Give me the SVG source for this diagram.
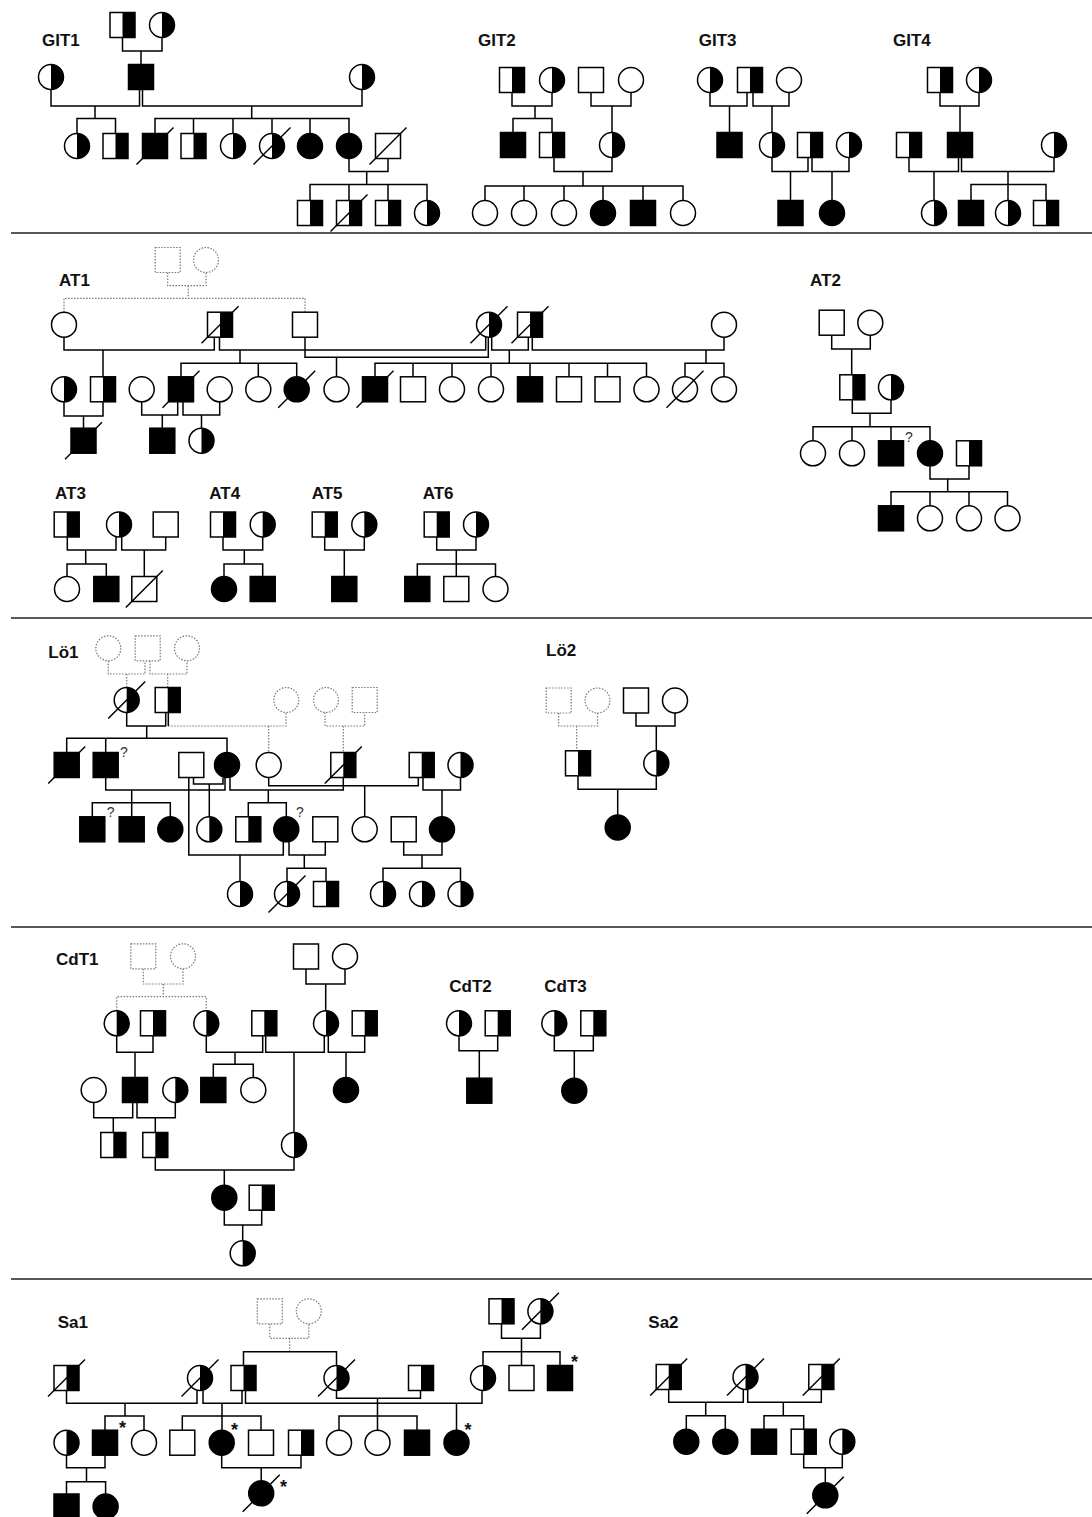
<svg xmlns="http://www.w3.org/2000/svg" width="1092" height="1517" viewBox="0 0 1092 1517">
<style>
.ln{fill:none;stroke:#000;stroke-width:1.5}
.dl{fill:none;stroke:#777;stroke-width:1.2;stroke-dasharray:1.5 1.5}
.sep{fill:none;stroke:#222;stroke-width:1.3}
.lbl{font-family:"Liberation Sans",Arial,sans-serif;font-weight:bold;font-size:17px;fill:#111}
.q{font-family:"Liberation Sans",Arial,sans-serif;font-size:14px;fill:#333}
.ast{font-family:"Liberation Sans",Arial,sans-serif;font-weight:bold;font-size:18px;fill:#111}
</style>
<defs>
<g id="sq"><rect x="-12.5" y="-12.5" width="25" height="25" fill="#fff" stroke="#000" stroke-width="1.5"/></g>
<g id="sqF"><rect x="-12.5" y="-12.5" width="25" height="25" fill="#000" stroke="#000" stroke-width="1.5"/></g>
<g id="sqH"><rect x="-12.5" y="-12.5" width="25" height="25" fill="#fff"/><rect x="0" y="-12.5" width="12.5" height="25" fill="#000"/><rect x="-12.5" y="-12.5" width="25" height="25" fill="none" stroke="#000" stroke-width="1.5"/></g>
<g id="ci"><circle r="12.5" fill="#fff" stroke="#000" stroke-width="1.5"/></g>
<g id="ciF"><circle r="12.5" fill="#000" stroke="#000" stroke-width="1.5"/></g>
<g id="ciH"><circle r="12.5" fill="#fff"/><path d="M0,-12.5A12.5,12.5 0 0 1 0,12.5Z" fill="#000"/><circle r="12.5" fill="none" stroke="#000" stroke-width="1.5"/></g>
<g id="dsq"><rect x="-12.5" y="-12.5" width="25" height="25" fill="#fff" stroke="#777" stroke-width="1.2" stroke-dasharray="1.5 1.5"/></g>
<g id="dci"><circle r="12.5" fill="#fff" stroke="#777" stroke-width="1.2" stroke-dasharray="1.5 1.5"/></g>
<line id="dec" x1="-18.5" y1="18.5" x2="18.5" y2="-18.5" stroke="#000" stroke-width="1.5"/>
</defs>
<rect width="1092" height="1517" fill="#fff"/>

<g id="separators"><path class="sep" d="M11,233H1092 M11,618H1092 M11,927H1092 M11,1279H1092"/></g>

<g id="connectors">
<path class="ln" d="M122.5,37.5V51H162V37.5 M141,51V64.5 M51,89.5V106H139.5V89.5 M142.5,89.5V106H362V89.5 M95,106V118.5 M77,133.5V118.5H115.5V133.5 M251.7,106V118.5 M155,133.5V118.5H349V133.5 M193.5,118.5V133.5 M233,118.5V133.5 M272,118.5V133.5 M310,118.5V133.5 M349,158.5V171.5H388V158.5 M366.7,171.5V184.5 M310,200.5V184.5H427V200.5 M349,184.5V200.5 M388,184.5V200.5"/>
<path class="ln" d="M512,92.5V106H552V92.5 M535,106V118.5 M513,132.5V118.5H552V132.5 M591,92.5V106H631V92.5 M612,106V132.5 M554,157.5V171.5H612V157.5 M583,171.5V186 M485,200.5V186H683V200.5 M524,186V200.5 M564,186V200.5 M603,186V200.5 M643,186V200.5"/>
<path class="ln" d="M710,92.5V106H747V92.5 M729.5,106V132.5 M753,92.5V106H789V92.5 M772,106V132.5 M772,157.5V171.5H808V157.5 M790.5,171.5V200.5 M812,157.5V171.5H849V157.5 M832,171.5V200.5"/>
<path class="ln" d="M940,92.5V106H979V92.5 M960,106V132.5 M909,157.5V171.5H958.5V157.5 M934,171.5V200.5 M961.5,157.5V171.5H1054V157.5 M1008,171.5V184.5 M971,200.5V184.5H1046V200.5 M1008,184.5V200.5"/>
<path class="dl" d="M167.7,272.5V285.7H206V272.5 M188.3,285.7V298.3 M64,312.2V298.3H305V312.2"/>
<path class="ln" d="M64,337.2V350H214.3V337.2 M103,350V376.8 M219.5,337.2V350H485.7V337 M240,350V363.3 M181,376.8V363.3H296.7V376.8 M258.3,363.3V376.8 M305,337.2V357.3H488.3V337 M336.5,357.3V376.8 M491.7,337V350H528.3V337.2 M509.3,350V363.3 M375,376.8V363.3H646.5V376.8 M413,363.3V376.8 M452,363.3V376.8 M491,363.3V376.8 M530,363.3V376.8 M569,363.3V376.8 M607.5,363.3V376.8 M532.3,337.2V350H724V337.2 M706,350V363.3 M685,376.8V363.3H724V376.8 M64,401.8V416H103V401.8 M83.5,416V428.2 M141.7,401.8V415H177.7V401.8 M162.3,415V428.2 M183,401.8V415H219.7V401.8 M201.5,415V428.2"/>
<path class="ln" d="M831.7,335.2V349H870.3V335.2 M851.7,349V374.8 M852.3,399.8V413.3H891V399.8 M870,413.3V426.7 M813,440.8V426.7H930V440.8 M852,426.7V440.8 M891,426.7V440.8 M930,465.8V479H969V465.8 M947.7,479V491.7 M891,505.8V491.7H1007.5V505.8 M930,491.7V505.8 M969,491.7V505.8"/>
<path class="ln" d="M67.3,537V550H116V537 M85.7,550V564 M67,576.5V564H106.3V576.5 M121.7,537V550H165.7V537 M144.3,550V576.5 M223,537V550H262.7V537 M244.3,550V564 M224,576.5V564H262.7V576.5 M324.7,537V550H364.3V537 M344.3,550V576.5 M436.7,537V550H476V537 M456.3,550V576.5 M417.3,576.5V564H495.5V576.5"/>
<path class="dl" d="M108.3,660.8V674H145V660.8 M126.7,674V687.5 M150,660.8V674H187V660.8 M167.7,674V687.5 M168.3,726H286V712.5 M268.7,726V752.5 M325,712.5V726H364.7V712.5 M343.3,726V752.5"/>
<path class="ln" d="M168.3,712.5V726 M126.7,712.5V726H165.7V712.5 M146.7,726V738.3 M66.7,752.5V738.3H227V752.5 M105.7,738.3V752.5 M105.7,777.5V790H225V777.5 M230,777.5V790H343.3V777.5 M131.7,790V802.7 M92.3,816.8V802.7H170.3V816.8 M131.7,802.7V816.8 M268.3,790V802.7 M248.3,816.8V802.7H286.3V816.8 M193.5,777.5V784H223V777.5 M209.3,784V816.8 M268.7,777.5V785.7H418.3V777.5 M364.7,785.7V816.8 M423,777.5V790H460.5V777.5 M442,790V816.8 M188.8,777.5V855H283.3V841.5 M240,855V881.5 M289,841.5V855H325.3V841.8 M304.3,855V868.3 M287,881.5V868.3H326V881.5 M403.7,841.8V855H442V841.8 M422,855V868.3 M383,881.5V868.3H460.5V881.5"/>
<path class="dl" d="M558.7,713V726H597.5V713 M576.7,726V750.8"/>
<path class="ln" d="M636,713V726H675V713 M656.3,726V750.8 M578,775.8V789.3H656.3V775.8 M617.7,789.3V815"/>
<path class="dl" d="M143.3,968.8V984H183V968.8 M163.3,984V996.7 M116.7,1010.8V996.7H206.3V1010.8"/>
<path class="ln" d="M306,969V984H345V969 M325.7,984V1010.8 M116.7,1035.8V1052.3H153V1035.8 M135,1052.3V1077.5 M206.3,1035.8V1052.3H262.7V1035.8 M235,1052.3V1064.3 M213.3,1077.5V1064.3H253.3V1077.5 M265.7,1035.8V1052.3H324.3V1035.8 M294,1052.3V1132.5 M328.3,1035.8V1052.3H364.7V1035.8 M346,1052.3V1077.5 M93.7,1102.5V1117.7H132.7V1102.5 M113.3,1117.7V1132.5 M137,1102.5V1117.7H175.3V1102.5 M155.3,1117.7V1132.5 M155.3,1157.5V1170H294V1157.5 M224.3,1170V1185.2 M224.3,1210.2V1225H261.7V1210.2 M242.7,1225V1240.8"/>
<path class="ln" d="M459,1035.8V1050.7H497.7V1035.8 M479.3,1050.7V1078.2 M554.3,1035.8V1050.7H593.3V1035.8 M574.3,1050.7V1078.2"/>
<path class="dl" d="M269.8,1323.8V1338.3H308.8V1323.8 M289.6,1338.3V1351.7"/>
<path class="ln" d="M243.5,1365.5V1351.7H336.5V1365.5 M501.5,1323.8V1338.3H540.4V1323.8 M521.5,1338.3V1365.5 M483,1365.5V1351.7H560V1365.5 M66.5,1390.5V1403.3H197V1390.5 M125,1403.3V1416 M105,1430.2V1416H144V1430.2 M203,1390.5V1403.3H242V1390.5 M222,1403.3V1430.2 M182.3,1430.2V1416H261V1430.2 M245.5,1390.5V1403.3H482V1390.5 M456.5,1403.3V1430.2 M336.5,1390.5V1398.3H420.5V1390.5 M377.5,1398.3V1430.2 M339,1430.2V1416H417V1430.2 M66.5,1455.2V1467.7H105V1455.2 M86.5,1467.7V1481.7 M66.5,1494V1481.7H105.6V1494 M221.7,1455.2V1467.7H301V1455.2 M261.2,1467.7V1480.8"/>
<path class="ln" d="M668.7,1389.5V1402.3H743.3V1389.5 M705.7,1402.3V1415.7 M686.3,1429.2V1415.7H725.3V1429.2 M747.7,1389.5V1402.3H821.3V1389.5 M783.3,1402.3V1415.7 M764,1429.2V1415.7H803.7V1429.2 M803.7,1454.2V1467.7H842.3V1454.2 M825.3,1467.7V1482.8"/>
</g>

<g id="labels">
<text class="lbl" x="42" y="45.7">GIT1</text>
<text class="lbl" x="478" y="45.7">GIT2</text>
<text class="lbl" x="698.7" y="45.7">GIT3</text>
<text class="lbl" x="893" y="45.7">GIT4</text>
<text class="lbl" x="59" y="285.7">AT1</text>
<text class="lbl" x="810" y="285.7">AT2</text>
<text class="lbl" x="55" y="499">AT3</text>
<text class="lbl" x="209.3" y="499">AT4</text>
<text class="lbl" x="311.7" y="499">AT5</text>
<text class="lbl" x="422.7" y="499">AT6</text>
<text class="lbl" x="48.3" y="658.3">Lö1</text>
<text class="lbl" x="546" y="656">Lö2</text>
<text class="lbl" x="56" y="965">CdT1</text>
<text class="lbl" x="449.3" y="992.3">CdT2</text>
<text class="lbl" x="544.3" y="992.3">CdT3</text>
<text class="lbl" x="57.7" y="1327.7">Sa1</text>
<text class="lbl" x="648.3" y="1327.7">Sa2</text>
<text class="q" x="905" y="442">?</text>
<text class="q" x="120" y="757">?</text>
<text class="q" x="106.7" y="817">?</text>
<text class="q" x="296" y="817">?</text>
<text class="ast" x="571" y="1368">*</text>
<text class="ast" x="119" y="1434">*</text>
<text class="ast" x="231" y="1436">*</text>
<text class="ast" x="464.6" y="1436">*</text>
<text class="ast" x="280" y="1493">*</text>
</g>

<g id="GIT1">
<g id="git1-01"><use href="#sqH" x="122.5" y="25"/></g>
<g id="git1-02"><use href="#ciH" x="162" y="25"/></g>
<g id="git1-03"><use href="#ciH" x="51" y="77"/></g>
<g id="git1-04"><use href="#sqF" x="141" y="77"/></g>
<g id="git1-05"><use href="#ciH" x="362" y="77"/></g>
<g id="git1-06"><use href="#ciH" x="77" y="146"/></g>
<g id="git1-07"><use href="#sqH" x="115.5" y="146"/></g>
<g id="git1-08"><use href="#sqF" x="155" y="146"/><use href="#dec" x="155" y="146"/></g>
<g id="git1-09"><use href="#sqH" x="193.5" y="146"/></g>
<g id="git1-10"><use href="#ciH" x="233" y="146"/></g>
<g id="git1-11"><use href="#ciH" x="272" y="146"/><use href="#dec" x="272" y="146"/></g>
<g id="git1-12"><use href="#ciF" x="310" y="146"/></g>
<g id="git1-13"><use href="#ciF" x="349" y="146"/></g>
<g id="git1-14"><use href="#sq" x="388" y="146"/><use href="#dec" x="388" y="146"/></g>
<g id="git1-15"><use href="#sqH" x="310" y="213"/></g>
<g id="git1-16"><use href="#sqH" x="349" y="213"/><use href="#dec" x="349" y="213"/></g>
<g id="git1-17"><use href="#sqH" x="388" y="213"/></g>
<g id="git1-18"><use href="#ciH" x="427" y="213"/></g>
</g>

<g id="GIT2">
<g id="git2-01"><use href="#sqH" x="512" y="80"/></g>
<g id="git2-02"><use href="#ciH" x="552" y="80"/></g>
<g id="git2-03"><use href="#sq" x="591" y="80"/></g>
<g id="git2-04"><use href="#ci" x="631" y="80"/></g>
<g id="git2-05"><use href="#sqF" x="513" y="145"/></g>
<g id="git2-06"><use href="#sqH" x="552" y="145"/></g>
<g id="git2-07"><use href="#ciH" x="612" y="145"/></g>
<g id="git2-08"><use href="#ci" x="485" y="213"/></g>
<g id="git2-09"><use href="#ci" x="524" y="213"/></g>
<g id="git2-10"><use href="#ci" x="564" y="213"/></g>
<g id="git2-11"><use href="#ciF" x="603" y="213"/></g>
<g id="git2-12"><use href="#sqF" x="643" y="213"/></g>
<g id="git2-13"><use href="#ci" x="683" y="213"/></g>
</g>

<g id="GIT3">
<g id="git3-01"><use href="#ciH" x="710" y="80"/></g>
<g id="git3-02"><use href="#sqH" x="750" y="80"/></g>
<g id="git3-03"><use href="#ci" x="789" y="80"/></g>
<g id="git3-04"><use href="#sqF" x="729.5" y="145"/></g>
<g id="git3-05"><use href="#ciH" x="772" y="145"/></g>
<g id="git3-06"><use href="#sqH" x="810" y="145"/></g>
<g id="git3-07"><use href="#ciH" x="849" y="145"/></g>
<g id="git3-08"><use href="#sqF" x="790.5" y="213"/></g>
<g id="git3-09"><use href="#ciF" x="832" y="213"/></g>
</g>

<g id="GIT4">
<g id="git4-01"><use href="#sqH" x="940" y="80"/></g>
<g id="git4-02"><use href="#ciH" x="979" y="80"/></g>
<g id="git4-03"><use href="#sqH" x="909" y="145"/></g>
<g id="git4-04"><use href="#sqF" x="960" y="145"/></g>
<g id="git4-05"><use href="#ciH" x="1054" y="145"/></g>
<g id="git4-06"><use href="#ciH" x="934" y="213"/></g>
<g id="git4-07"><use href="#sqF" x="971" y="213"/></g>
<g id="git4-08"><use href="#ciH" x="1008" y="213"/></g>
<g id="git4-09"><use href="#sqH" x="1046" y="213"/></g>
</g>

<g id="AT1">
<g id="at1-01"><use href="#dsq" x="167.7" y="260"/></g>
<g id="at1-02"><use href="#dci" x="206" y="260"/></g>
<g id="at1-03"><use href="#ci" x="64" y="324.7"/></g>
<g id="at1-04"><use href="#sqH" x="220" y="324.7"/><use href="#dec" x="220" y="324.7"/></g>
<g id="at1-05"><use href="#sq" x="305" y="324.7"/></g>
<g id="at1-06"><use href="#ciH" x="489" y="324.7"/><use href="#dec" x="489" y="324.7"/></g>
<g id="at1-07"><use href="#sqH" x="530" y="324.7"/><use href="#dec" x="530" y="324.7"/></g>
<g id="at1-08"><use href="#ci" x="724" y="324.7"/></g>
<g id="at1-09"><use href="#ciH" x="64" y="389.3"/></g>
<g id="at1-10"><use href="#sqH" x="103" y="389.3"/></g>
<g id="at1-11"><use href="#ci" x="141.7" y="389.3"/></g>
<g id="at1-12"><use href="#sqF" x="181" y="389.3"/><use href="#dec" x="181" y="389.3"/></g>
<g id="at1-13"><use href="#ci" x="219.7" y="389.3"/></g>
<g id="at1-14"><use href="#ci" x="258.3" y="389.3"/></g>
<g id="at1-15"><use href="#ciF" x="296.7" y="389.3"/><use href="#dec" x="296.7" y="389.3"/></g>
<g id="at1-16"><use href="#ci" x="336.5" y="389.3"/></g>
<g id="at1-17"><use href="#sqF" x="375" y="389.3"/><use href="#dec" x="375" y="389.3"/></g>
<g id="at1-18"><use href="#sq" x="413" y="389.3"/></g>
<g id="at1-19"><use href="#ci" x="452" y="389.3"/></g>
<g id="at1-20"><use href="#ci" x="491" y="389.3"/></g>
<g id="at1-21"><use href="#sqF" x="530" y="389.3"/></g>
<g id="at1-22"><use href="#sq" x="569" y="389.3"/></g>
<g id="at1-23"><use href="#sq" x="607.5" y="389.3"/></g>
<g id="at1-24"><use href="#ci" x="646.5" y="389.3"/></g>
<g id="at1-25"><use href="#ci" x="685" y="389.3"/><use href="#dec" x="685" y="389.3"/></g>
<g id="at1-26"><use href="#ci" x="724" y="389.3"/></g>
<g id="at1-27"><use href="#sqF" x="83.5" y="440.7"/><use href="#dec" x="83.5" y="440.7"/></g>
<g id="at1-28"><use href="#sqF" x="162.3" y="440.7"/></g>
<g id="at1-29"><use href="#ciH" x="201.5" y="440.7"/></g>
</g>

<g id="AT2">
<g id="at2-01"><use href="#sq" x="831.7" y="322.7"/></g>
<g id="at2-02"><use href="#ci" x="870.3" y="322.7"/></g>
<g id="at2-03"><use href="#sqH" x="852.3" y="387.3"/></g>
<g id="at2-04"><use href="#ciH" x="891" y="387.3"/></g>
<g id="at2-05"><use href="#ci" x="813" y="453.3"/></g>
<g id="at2-06"><use href="#ci" x="852" y="453.3"/></g>
<g id="at2-07"><use href="#sqF" x="891" y="453.3"/></g>
<g id="at2-08"><use href="#ciF" x="930" y="453.3"/></g>
<g id="at2-09"><use href="#sqH" x="969" y="453.3"/></g>
<g id="at2-10"><use href="#sqF" x="891" y="518.3"/></g>
<g id="at2-11"><use href="#ci" x="930" y="518.3"/></g>
<g id="at2-12"><use href="#ci" x="969" y="518.3"/></g>
<g id="at2-13"><use href="#ci" x="1007.5" y="518.3"/></g>
</g>

<g id="AT3-6">
<g id="at3-01"><use href="#sqH" x="66.7" y="524.5"/></g>
<g id="at3-02"><use href="#ciH" x="119" y="524.5"/></g>
<g id="at3-03"><use href="#sq" x="165.7" y="524.5"/></g>
<g id="at3-04"><use href="#ci" x="67" y="589"/></g>
<g id="at3-05"><use href="#sqF" x="106.3" y="589"/></g>
<g id="at3-06"><use href="#sq" x="144.3" y="589"/><use href="#dec" x="144.3" y="589"/></g>
<g id="at4-01"><use href="#sqH" x="223" y="524.5"/></g>
<g id="at4-02"><use href="#ciH" x="262.7" y="524.5"/></g>
<g id="at4-03"><use href="#ciF" x="224" y="589"/></g>
<g id="at4-04"><use href="#sqF" x="262.7" y="589"/></g>
<g id="at5-01"><use href="#sqH" x="324.7" y="524.5"/></g>
<g id="at5-02"><use href="#ciH" x="364.3" y="524.5"/></g>
<g id="at5-03"><use href="#sqF" x="344.3" y="589"/></g>
<g id="at6-01"><use href="#sqH" x="436.7" y="524.5"/></g>
<g id="at6-02"><use href="#ciH" x="476" y="524.5"/></g>
<g id="at6-03"><use href="#sqF" x="417.3" y="589"/></g>
<g id="at6-04"><use href="#sq" x="456.3" y="589"/></g>
<g id="at6-05"><use href="#ci" x="495.5" y="589"/></g>
</g>

<g id="Lo1">
<g id="lo1-01"><use href="#dci" x="108.3" y="648.3"/></g>
<g id="lo1-02"><use href="#dsq" x="147.7" y="648.3"/></g>
<g id="lo1-03"><use href="#dci" x="187" y="648.3"/></g>
<g id="lo1-04"><use href="#ciH" x="126.7" y="700"/><use href="#dec" x="126.7" y="700"/></g>
<g id="lo1-05"><use href="#sqH" x="167.7" y="700"/></g>
<g id="lo1-06"><use href="#dci" x="286.3" y="700"/></g>
<g id="lo1-07"><use href="#dci" x="326" y="700"/></g>
<g id="lo1-08"><use href="#dsq" x="364.7" y="700"/></g>
<g id="lo1-09"><use href="#sqF" x="66.7" y="765"/><use href="#dec" x="66.7" y="765"/></g>
<g id="lo1-10"><use href="#sqF" x="105.7" y="765"/></g>
<g id="lo1-11"><use href="#sq" x="191.3" y="765"/></g>
<g id="lo1-12"><use href="#ciF" x="227" y="765"/></g>
<g id="lo1-13"><use href="#ci" x="268.7" y="765"/></g>
<g id="lo1-14"><use href="#sqH" x="343.3" y="765"/><use href="#dec" x="343.3" y="765"/></g>
<g id="lo1-15"><use href="#sqH" x="421.7" y="765"/></g>
<g id="lo1-16"><use href="#ciH" x="460.5" y="765"/></g>
<g id="lo1-17"><use href="#sqF" x="92.3" y="829.3"/></g>
<g id="lo1-18"><use href="#sqF" x="131.7" y="829.3"/></g>
<g id="lo1-19"><use href="#ciF" x="170.3" y="829.3"/></g>
<g id="lo1-20"><use href="#ciH" x="209.3" y="829.3"/></g>
<g id="lo1-21"><use href="#sqH" x="248.3" y="829.3"/></g>
<g id="lo1-22"><use href="#ciF" x="286.3" y="829.3"/></g>
<g id="lo1-23"><use href="#sq" x="325.3" y="829.3"/></g>
<g id="lo1-24"><use href="#ci" x="364.7" y="829.3"/></g>
<g id="lo1-25"><use href="#sq" x="403.7" y="829.3"/></g>
<g id="lo1-26"><use href="#ciF" x="442" y="829.3"/></g>
<g id="lo1-27"><use href="#ciH" x="240" y="894"/></g>
<g id="lo1-28"><use href="#ciH" x="287" y="894"/><use href="#dec" x="287" y="894"/></g>
<g id="lo1-29"><use href="#sqH" x="326" y="894"/></g>
<g id="lo1-30"><use href="#ciH" x="383" y="894"/></g>
<g id="lo1-31"><use href="#ciH" x="422" y="894"/></g>
<g id="lo1-32"><use href="#ciH" x="460.5" y="894"/></g>
</g>

<g id="Lo2">
<g id="lo2-01"><use href="#dsq" x="558.7" y="700.5"/></g>
<g id="lo2-02"><use href="#dci" x="597.5" y="700.5"/></g>
<g id="lo2-03"><use href="#sq" x="636" y="700.5"/></g>
<g id="lo2-04"><use href="#ci" x="675" y="700.5"/></g>
<g id="lo2-05"><use href="#sqH" x="578" y="763.3"/></g>
<g id="lo2-06"><use href="#ciH" x="656.3" y="763.3"/></g>
<g id="lo2-07"><use href="#ciF" x="617.7" y="827.5"/></g>
</g>

<g id="CdT1">
<g id="cdt1-01"><use href="#dsq" x="143.3" y="956.3"/></g>
<g id="cdt1-02"><use href="#dci" x="183" y="956.3"/></g>
<g id="cdt1-03"><use href="#sq" x="306" y="956.5"/></g>
<g id="cdt1-04"><use href="#ci" x="345" y="956.5"/></g>
<g id="cdt1-05"><use href="#ciH" x="116.7" y="1023.3"/></g>
<g id="cdt1-06"><use href="#sqH" x="153" y="1023.3"/></g>
<g id="cdt1-07"><use href="#ciH" x="206.3" y="1023.3"/></g>
<g id="cdt1-08"><use href="#sqH" x="264.3" y="1023.3"/></g>
<g id="cdt1-09"><use href="#ciH" x="326" y="1023.3"/></g>
<g id="cdt1-10"><use href="#sqH" x="364.7" y="1023.3"/></g>
<g id="cdt1-11"><use href="#ci" x="93.7" y="1090"/></g>
<g id="cdt1-12"><use href="#sqF" x="135" y="1090"/></g>
<g id="cdt1-13"><use href="#ciH" x="175.3" y="1090"/></g>
<g id="cdt1-14"><use href="#sqF" x="213.3" y="1090"/></g>
<g id="cdt1-15"><use href="#ci" x="253.3" y="1090"/></g>
<g id="cdt1-16"><use href="#ciF" x="346" y="1090"/></g>
<g id="cdt1-17"><use href="#sqH" x="113.3" y="1145"/></g>
<g id="cdt1-18"><use href="#sqH" x="155.3" y="1145"/></g>
<g id="cdt1-19"><use href="#ciH" x="294" y="1145"/></g>
<g id="cdt1-20"><use href="#ciF" x="224.3" y="1197.7"/></g>
<g id="cdt1-21"><use href="#sqH" x="261.7" y="1197.7"/></g>
<g id="cdt1-22"><use href="#ciH" x="242.7" y="1253.3"/></g>
</g>

<g id="CdT2-3">
<g id="cdt2-01"><use href="#ciH" x="459" y="1023.3"/></g>
<g id="cdt2-02"><use href="#sqH" x="497.7" y="1023.3"/></g>
<g id="cdt2-03"><use href="#sqF" x="479.3" y="1090.7"/></g>
<g id="cdt3-01"><use href="#ciH" x="554.3" y="1023.3"/></g>
<g id="cdt3-02"><use href="#sqH" x="593.3" y="1023.3"/></g>
<g id="cdt3-03"><use href="#ciF" x="574.3" y="1090.7"/></g>
</g>

<g id="Sa1">
<g id="sa1-01"><use href="#dsq" x="269.8" y="1311.3"/></g>
<g id="sa1-02"><use href="#dci" x="308.8" y="1311.3"/></g>
<g id="sa1-03"><use href="#sqH" x="501.5" y="1311.3"/></g>
<g id="sa1-04"><use href="#ciH" x="540.4" y="1311.3"/><use href="#dec" x="540.4" y="1311.3"/></g>
<g id="sa1-05"><use href="#sqH" x="66.5" y="1378"/><use href="#dec" x="66.5" y="1378"/></g>
<g id="sa1-06"><use href="#ciH" x="200" y="1378"/><use href="#dec" x="200" y="1378"/></g>
<g id="sa1-07"><use href="#sqH" x="243.5" y="1378"/></g>
<g id="sa1-08"><use href="#ciH" x="336.5" y="1378"/><use href="#dec" x="336.5" y="1378"/></g>
<g id="sa1-09"><use href="#sqH" x="421" y="1378"/></g>
<g id="sa1-10"><use href="#ciH" x="483" y="1378"/></g>
<g id="sa1-11"><use href="#sq" x="521.5" y="1378"/></g>
<g id="sa1-12"><use href="#sqF" x="560" y="1378"/></g>
<g id="sa1-13"><use href="#ciH" x="66.5" y="1442.7"/></g>
<g id="sa1-14"><use href="#sqF" x="105" y="1442.7"/></g>
<g id="sa1-15"><use href="#ci" x="144" y="1442.7"/></g>
<g id="sa1-16"><use href="#sq" x="182.3" y="1442.7"/></g>
<g id="sa1-17"><use href="#ciF" x="221.7" y="1442.7"/></g>
<g id="sa1-18"><use href="#sq" x="261" y="1442.7"/></g>
<g id="sa1-19"><use href="#sqH" x="301" y="1442.7"/></g>
<g id="sa1-20"><use href="#ci" x="339" y="1442.7"/></g>
<g id="sa1-21"><use href="#ci" x="377.5" y="1442.7"/></g>
<g id="sa1-22"><use href="#sqF" x="417" y="1442.7"/></g>
<g id="sa1-23"><use href="#ciF" x="456.5" y="1442.7"/></g>
<g id="sa1-24"><use href="#sqF" x="66.5" y="1506.5"/></g>
<g id="sa1-25"><use href="#ciF" x="105.6" y="1506.5"/></g>
<g id="sa1-26"><use href="#ciF" x="261.2" y="1493.3"/><use href="#dec" x="261.2" y="1493.3"/></g>
</g>

<g id="Sa2">
<g id="sa2-01"><use href="#sqH" x="668.7" y="1377"/><use href="#dec" x="668.7" y="1377"/></g>
<g id="sa2-02"><use href="#ciH" x="745.5" y="1377"/><use href="#dec" x="745.5" y="1377"/></g>
<g id="sa2-03"><use href="#sqH" x="821.3" y="1377"/><use href="#dec" x="821.3" y="1377"/></g>
<g id="sa2-04"><use href="#ciF" x="686.3" y="1441.7"/></g>
<g id="sa2-05"><use href="#ciF" x="725.3" y="1441.7"/></g>
<g id="sa2-06"><use href="#sqF" x="764" y="1441.7"/></g>
<g id="sa2-07"><use href="#sqH" x="803.7" y="1441.7"/></g>
<g id="sa2-08"><use href="#ciH" x="842.3" y="1441.7"/></g>
<g id="sa2-09"><use href="#ciF" x="825.3" y="1495.3"/><use href="#dec" x="825.3" y="1495.3"/></g>
</g>
</svg>
